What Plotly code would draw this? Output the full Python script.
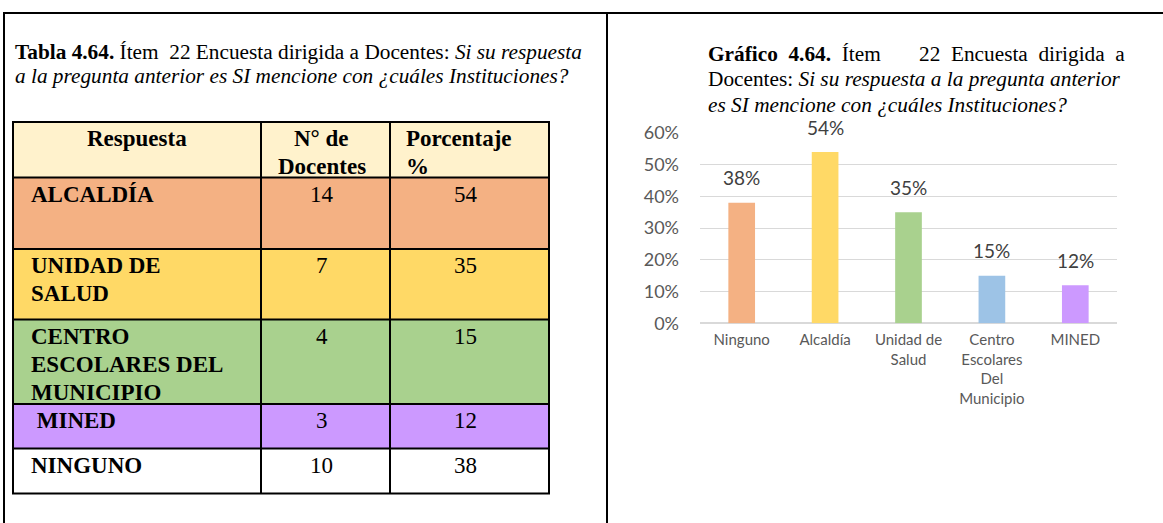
import plotly.graph_objects as go

# ---- data -------------------------------------------------------------
TABLE_HEADER = ["Respuesta", "N° de<br>Docentes", "Porcentaje<br>%"]
TABLE_RESPUESTAS = [
    ["ALCALDÍA"],
    ["UNIDAD DE", "SALUD"],
    ["CENTRO", "ESCOLARES DEL", "MUNICIPIO"],
    ["\u00a0MINED"],
    ["NINGUNO"],
]
DOCENTES = [14, 7, 4, 3, 10]
PORCENTAJES = [54, 35, 15, 12, 38]

CHART_CATEGORIAS = ["Ninguno", "Alcaldía", "Unidad de<br>Salud",
                    "Centro<br>Escolares<br>Del<br>Municipio", "MINED"]
CHART_VALORES = [38, 54, 35, 15, 12]
Y_TICKS = [0, 10, 20, 30, 40, 50, 60]

# ---- styles -----------------------------------------------------------
W, H = 1163, 523
SERIF = "Liberation Serif"
SANS = "Lato"
ROW_FILLS = ["#F4B183", "#FFD966", "#A9D18E", "#CC99FF", "#FFFFFF"]
HEADER_FILL = "#FFF2CC"
BAR_COLORS = ["#F4B183", "#FFD966", "#A9D18E", "#9DC3E6", "#CC99FF"]

COL_EDGES = [13, 261, 390, 549]
TABLE_TOP = 122
ROW_HEIGHTS = [55.5, 71.5, 70.5, 84.5, 44.5, 45]
LINE_STEP = 28


def px(x):
    return x / W


def py(y):
    return 1 - y / H


shapes = []
annotations = []


def hline(x0, x1, y, width=2):
    shapes.append(dict(type="line", xref="paper", yref="paper",
                       x0=px(x0), x1=px(x1), y0=py(y), y1=py(y),
                       line=dict(color="black", width=width)))


def vline(x, y0, y1, width=2):
    shapes.append(dict(type="line", xref="paper", yref="paper",
                       x0=px(x), x1=px(x), y0=py(y0), y1=py(y1),
                       line=dict(color="black", width=width)))


def text(x, y, s, size, anchor="left", family=SERIF, color="black"):
    annotations.append(dict(xref="paper", yref="paper", x=px(x), y=py(y),
                            text=s, showarrow=False, xanchor=anchor,
                            yanchor="middle",
                            font=dict(family=family, size=size, color=color)))


# ---- page frame ------------------------------------------------------
hline(3, 1163, 13)
vline(4, 13, 523)
vline(607, 13, 523)

# ---- table caption ---------------------------------------------------
NB = "\u00a0"
text(13, 51.5, "<b>Tabla 4.64.</b> Ítem" + NB + NB + "22 Encuesta dirigida a "
     "Docentes: <i>Si su respuesta</i>", 21.3)
text(13, 75.5, "<i>a la pregunta anterior es SI mencione con ¿cuáles "
     "Instituciones?</i>", 21.3)

# ---- table -----------------------------------------------------------
row_tops = [TABLE_TOP]
for h in ROW_HEIGHTS:
    row_tops.append(row_tops[-1] + h)

fills = [HEADER_FILL] + ROW_FILLS
for i, fc in enumerate(fills):
    shapes.append(dict(type="rect", xref="paper", yref="paper",
                       x0=px(COL_EDGES[0]), x1=px(COL_EDGES[-1]),
                       y0=py(row_tops[i]), y1=py(row_tops[i + 1]),
                       fillcolor=fc, line=dict(width=0), layer="below"))
for yb in row_tops:
    hline(COL_EDGES[0] - 1, COL_EDGES[-1] + 1, yb)
for xb in COL_EDGES:
    vline(xb, row_tops[0], row_tops[-1])

TS = 23
off = 16.5
# header cells
hdr_top = row_tops[0]
text((COL_EDGES[0] + COL_EDGES[1]) / 2, hdr_top + off, "<b>" + TABLE_HEADER[0] + "</b>", TS, "center")
for j, line in enumerate(TABLE_HEADER[1].split("<br>")):
    text((COL_EDGES[1] + COL_EDGES[2]) / 2 - 4, hdr_top + off + j * LINE_STEP,
         "<b>" + line + "</b>", TS, "center")
for j, line in enumerate(TABLE_HEADER[2].split("<br>")):
    text(COL_EDGES[2] + 14, hdr_top + off + j * LINE_STEP,
         "<b>" + line + "</b>", TS, "left")

# body cells
for i in range(len(TABLE_RESPUESTAS)):
    top = row_tops[i + 1]
    for j, line in enumerate(TABLE_RESPUESTAS[i]):
        text(29, top + off + j * LINE_STEP, "<b>" + line + "</b>", TS, "left")
    text((COL_EDGES[1] + COL_EDGES[2]) / 2 - 4, top + off, str(DOCENTES[i]), TS, "center")
    text((COL_EDGES[2] + COL_EDGES[3]) / 2 - 4, top + off, str(PORCENTAJES[i]), TS, "center")

# ---- chart caption (justified first line) ----------------------------
G = NB + NB
annotations.append(dict(xref="paper", yref="paper", x=px(706), y=py(54.5),
                        text="<b>Gráfico" + G + "4.64.</b>" + G + "Ítem",
                        showarrow=False, xanchor="left", yanchor="middle",
                        font=dict(family=SERIF, size=21.3, color="black")))
annotations.append(dict(xref="paper", yref="paper", x=px(1127), y=py(54.5),
                        text="22" + G + "Encuesta" + G + "dirigida" + G + "a",
                        showarrow=False, xanchor="right", yanchor="middle",
                        font=dict(family=SERIF, size=21.3, color="black")))
text(706, 79.5, "Docentes: <i>Si su respuesta a la pregunta anterior</i>", 21.3)
text(706, 104.5, "<i>es SI mencione con ¿cuáles Instituciones?</i>", 21.3)

# ---- bar chart -------------------------------------------------------
fig = go.Figure()
fig.add_trace(go.Bar(
    x=CHART_CATEGORIAS, y=CHART_VALORES,
    marker=dict(color=BAR_COLORS, line=dict(width=0)),
    width=0.32, hoverinfo="skip",
))

for cat, val in zip(CHART_CATEGORIAS, CHART_VALORES):
    annotations.append(dict(xref="x", yref="y", x=cat, y=val,
                            text=f"{val}%", showarrow=False,
                            yanchor="middle", yshift=25,
                            font=dict(family=SANS, size=19, color="#404040")))

fig.update_layout(
    width=W, height=H,
    margin=dict(l=0, r=0, t=0, b=0, pad=0, autoexpand=False),
    paper_bgcolor="white", plot_bgcolor="white",
    showlegend=False,
    shapes=shapes,
    annotations=annotations,
    xaxis=dict(domain=[px(700), px(1117)], showgrid=False, showline=False,
               zeroline=False, ticks="", ticklabelstandoff=6, automargin=False,
               tickfont=dict(family=SANS, size=15, color="#595959")),
    yaxis=dict(domain=[py(323.3), py(133)], range=[0, 60], automargin=False,
               tickvals=Y_TICKS, ticktext=[f"{v}%" for v in Y_TICKS],
               showgrid=True, gridcolor="#D9D9D9", gridwidth=1.3,
               zeroline=True, zerolinecolor="#D9D9D9", zerolinewidth=1.5,
               showline=False, ticks="", ticklabelstandoff=20,
               tickfont=dict(family=SANS, size=18, color="#595959")),
)

fig.write_html("out.html")
